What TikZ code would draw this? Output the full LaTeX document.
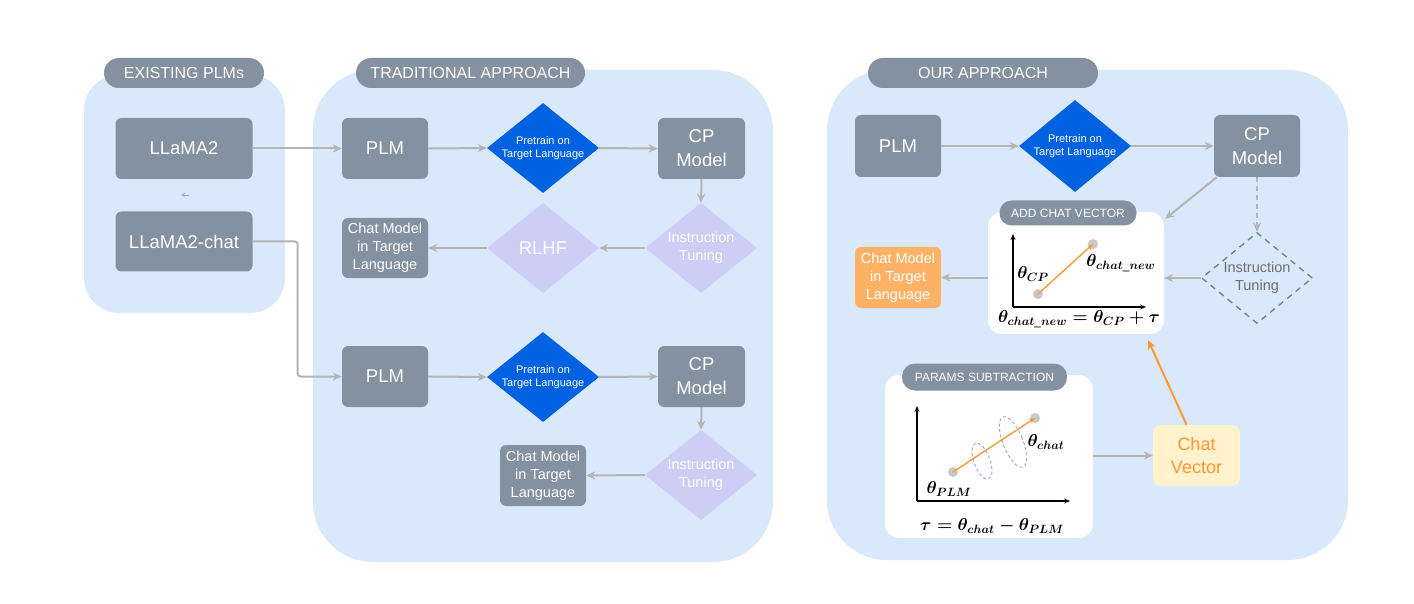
\documentclass[tikz,border=0pt]{standalone}
\usepackage{fontspec}
\setmainfont{Liberation Sans}
\usepackage{amsmath}
\usetikzlibrary{shapes.geometric,arrows.meta,calc}
\definecolor{panelblue}{RGB}{218,232,252}
\definecolor{boxgray}{RGB}{132,145,160}
\definecolor{arrowgray}{RGB}{180,180,180}
\definecolor{dblue}{RGB}{0,98,224}
\definecolor{lpurple}{RGB}{205,205,245}
\definecolor{orangebox}{RGB}{255,178,102}
\definecolor{orangeline}{RGB}{255,153,51}
\definecolor{cvfill}{RGB}{255,242,204}
\definecolor{cvtext}{RGB}{255,150,50}
\definecolor{dashgray}{RGB}{128,128,128}
\definecolor{dtextgray}{RGB}{110,110,110}
\definecolor{dotgray}{RGB}{200,200,200}
\definecolor{ellblue}{RGB}{150,160,230}
\begin{document}
\begin{tikzpicture}[x=1pt,y=-1pt,
  gbox/.style={rectangle, rounded corners=6pt, fill=boxgray, text=white, inner sep=0pt, align=center,
    minimum width=86pt, minimum height=61pt, font=\fontsize{18.5}{24}\selectfont},
  smalltxt/.style={font=\fontsize{14.5}{18}\selectfont},
  pill/.style={rectangle, rounded corners=15pt, fill=boxgray, text=white, inner sep=0pt,
    minimum height=30pt, font=\fontsize{16}{18}\selectfont},
  spill/.style={rectangle, rounded corners=12pt, fill=boxgray, text=white, inner sep=0pt,
    minimum height=25pt, font=\fontsize{12}{14}\selectfont},
  bdia/.style={diamond, fill=dblue, inner sep=0pt, minimum width=112pt, minimum height=90pt},
  pdia/.style={diamond, fill=lpurple, inner sep=0pt, minimum width=112pt, minimum height=90pt},
  ddia/.style={diamond, draw=dashgray, line width=1.4pt, dash pattern=on 6pt off 5pt, inner sep=0pt,
    minimum width=111pt, minimum height=91pt},
  dtext/.style={text=white, align=center, font=\fontsize{11}{13}\selectfont},
  ptext/.style={text=white, align=center, font=\fontsize{14.5}{18}\selectfont},
  wbox/.style={rectangle, rounded corners=14pt, fill=white, inner sep=0pt},
  conn/.style={draw=arrowgray, line width=2pt, -{Stealth[length=9pt,width=8pt]}},
  oconn/.style={draw=orangeline, line width=2pt, -{Stealth[length=9pt,width=8pt]}},
  axis/.style={draw=black, line width=1.2pt, -{Stealth[length=6pt,width=5pt]}},
  dot/.style={circle, fill=dotgray, inner sep=0pt, minimum size=10pt},
  mathlbl/.style={font=\fontsize{17}{19}\selectfont\boldmath, inner sep=0pt},
  ell/.style={draw=ellblue, line width=0.9pt, dash pattern=on 3pt off 2.5pt}
]
\useasboundingbox (0,0) rectangle (1414,604);
\fill[white] (0,0) rectangle (1414,604);

% ---------- panels ----------
\fill[panelblue, rounded corners=35pt] (84,75) rectangle (285,313);
\fill[panelblue, rounded corners=60pt] (313,70) rectangle (773,562);
\fill[panelblue, rounded corners=60pt] (827,70) rectangle (1348,560);

\node[pill, minimum width=160pt] (p1) at (184,73) {EXISTING PLMs};
\node[pill, minimum width=229pt] (p2) at (470.5,73) {TRADITIONAL APPROACH};
\node[pill, minimum width=230pt] (p3) at (983,73) {OUR APPROACH};

% ---------- existing PLMs ----------
\node[gbox, minimum width=137pt, minimum height=61pt] (llama) at (184,148.5) {LLaMA2};
\node[gbox, minimum width=137pt, minimum height=60pt] (llamachat) at (184,241.5) {LLaMA2-chat};
\coordinate (t1) at (189,195);
\coordinate (t2) at (181,195);
\draw[draw=boxgray!80, line width=0.8pt, -{Stealth[length=4pt,width=4pt]}] (t1) -- (t2);

% ---------- traditional: top row ----------
\node[gbox] (plm1) at (385,148.5) {PLM};
\node[bdia] (d1) at (543,148) {};
\node[dtext] at (d1) {Pretrain on\\Target Language};
\node[gbox, minimum width=87pt] (cp1) at (701.5,148.5) {CP\\Model};
\node[pdia] (it1) at (701,248) {};
\node[ptext] at (it1) {Instruction\\Tuning};
\node[pdia] (rlhf) at (543,248) {};
\node[text=white, font=\fontsize{18.5}{22}\selectfont] at (rlhf) {RLHF};
\node[gbox, smalltxt, minimum height=60pt] (chat1) at (385,248) {Chat Model\\in Target\\Language};

\draw[conn] (llama.east) -- (plm1.west);
\draw[conn] (plm1.east) -- (d1.west);
\draw[conn] (d1.east) -- (cp1.west);
\draw[conn] (cp1.south) -- (it1.north);
\draw[conn] (it1.west) -- (rlhf.east);
\draw[conn] (rlhf.west) -- (chat1.east);

% ---------- traditional: bottom row ----------
\node[gbox] (plm2) at (385,376.5) {PLM};
\node[bdia] (d2) at (543,377) {};
\node[dtext] at (d2) {Pretrain on\\Target Language};
\node[gbox, minimum width=87pt] (cp2) at (701.5,376.5) {CP\\Model};
\node[pdia] (it2) at (701,475) {};
\node[ptext] at (it2) {Instruction\\Tuning};
\node[gbox, smalltxt] (chat2) at (543,475.5) {Chat Model\\in Target\\Language};

\draw[conn, rounded corners=3pt] (llamachat.east) -- ++(45,0) |- (plm2.west);
\draw[conn] (plm2.east) -- (d2.west);
\draw[conn] (d2.east) -- (cp2.west);
\draw[conn] (cp2.south) -- (it2.north);
\draw[conn] (it2.west) -- (chat2.east);

% ---------- our approach ----------
\node[gbox, minimum height=62pt] (plm3) at (898,146) {PLM};
\node[bdia, minimum height=92pt] (d3) at (1075,146) {};
\node[dtext] at (d3) {Pretrain on\\Target Language};
\node[gbox, minimum height=62pt] (cp3) at (1257,146) {CP\\Model};
\node[ddia] (it3) at (1257,278) {};
\node[text=dtextgray, align=center, font=\fontsize{14.5}{18}\selectfont] at (it3) {Instruction\\Tuning};
\node[gbox, smalltxt, fill=orangebox, minimum height=61pt] (chat3) at (898,277.5) {Chat Model\\in Target\\Language};

% add chat vector box
\node[wbox, minimum width=176pt, minimum height=122pt] (acv) at (1076,273) {};
\node[spill, minimum width=137pt] (acvp) at (1068,213) {ADD CHAT VECTOR};
\coordinate (a0) at (1013,307);
\coordinate (ay) at (1013,234);
\coordinate (ax) at (1146,307);
\draw[axis] (a0) -- (ay);
\draw[axis] (a0) -- (ax);
\node[dot] (acp) at (1038,294) {};
\node[dot] (anew) at (1093,244) {};
\draw[draw=orangeline, line width=1.4pt, -{Stealth[length=6pt,width=5pt]}] (acp.center) -- (anew.center);
\node[mathlbl] at (1033,274) {$\theta_{CP}$};
\node[mathlbl] at (1121,263) {$\theta_{chat\_new}$};
\node[mathlbl] at (1079,319) {$\theta_{chat\_new}=\theta_{CP}+\tau$};

% params subtraction box
\node[wbox, minimum width=208pt, minimum height=163pt] (ps) at (989,456.5) {};
\node[spill, minimum width=165pt, minimum height=27pt, rounded corners=13pt] (psp) at (984.5,377) {PARAMS SUBTRACTION};
\coordinate (b0) at (917,501);
\coordinate (by) at (917,406);
\coordinate (bx) at (1070,501);
\draw[axis] (b0) -- (by);
\draw[axis] (b0) -- (bx);
\draw[ell, rotate around={20:(982,461)}] (982,461) ellipse (8pt and 19pt);
\draw[ell, rotate around={22:(1013,442)}] (1013,442) ellipse (10pt and 27pt);
\node[dot] (bplm) at (953,472) {};
\node[dot] (bchat) at (1035,418) {};
\draw[draw=orangeline, line width=1.4pt, -{Stealth[length=6pt,width=5pt]}] (bplm.center) -- (bchat.center);
\node[mathlbl] at (1046,442) {$\theta_{chat}$};
\node[mathlbl] at (949,489) {$\theta_{PLM}$};
\node[mathlbl] at (992,526) {$\tau=\theta_{chat}-\theta_{PLM}$};

% chat vector
\node[rectangle, rounded corners=8pt, fill=cvfill, text=cvtext, inner sep=0pt, align=center,
  minimum width=87pt, minimum height=61pt, font=\fontsize{18}{23}\selectfont] (cv) at (1196.5,455.5) {Chat\\Vector};

% connectors
\draw[conn] (plm3.east) -- (d3.west);
\draw[conn] (d3.east) -- (cp3.west);
\draw[conn] ($(cp3.south west)+(3,0)$) -- ($(acv.north east)+(1,7)$);
\draw[conn, dash pattern=on 5pt off 4pt] (cp3.south) -- (it3.north);
\draw[conn] (it3.west) -- (it3.west -| acv.east);
\draw[conn] (chat3.east -| acv.west) -- (chat3.east);
\draw[conn] (ps.east |- cv.west) -- (cv.west);
\draw[oconn] ($(cv.north)+(-10,0)$) -- ($(acv.south east)+(-16,6)$);
\end{tikzpicture}
\end{document}
